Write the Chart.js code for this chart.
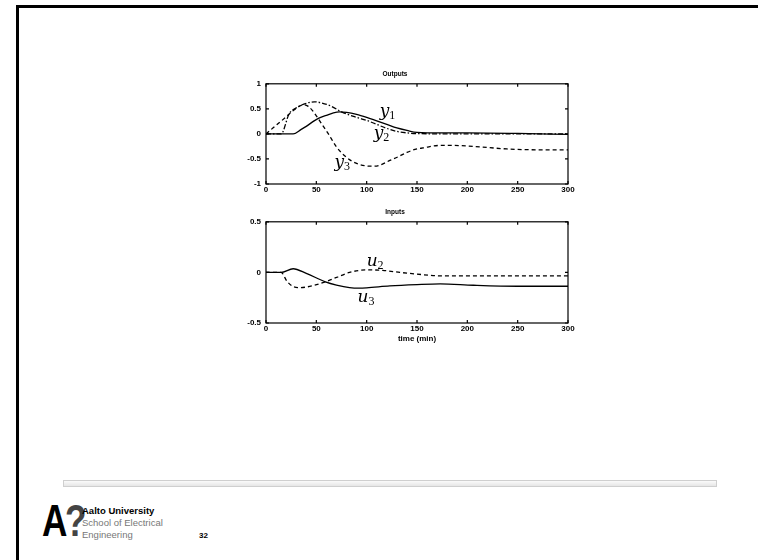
<!DOCTYPE html>
<html>
<head>
<meta charset="utf-8">
<script src="https://cdn.jsdelivr.net/npm/chart.js@4.4.1/dist/chart.umd.min.js"></script>
<style>
  html, body { margin: 0; padding: 0; background: #fff; }
  body { width: 758px; height: 560px; position: relative; overflow: hidden; font-family: "Liberation Sans", Arial, sans-serif; }
  .edge-top { position: absolute; left: 16px; top: 5px; right: 0; height: 3px; background: #000; }
  .edge-left { position: absolute; left: 16px; top: 5px; bottom: 0; width: 3px; background: #000; }
  canvas { position: absolute; }
  #outCanvas { left: 222px; top: 66px; }
  #inCanvas { left: 222px; top: 204px; }
  .rule { position: absolute; left: 63px; top: 480px; width: 652px; height: 5px; border: 1px solid #cfcfcf; background: linear-gradient(#fafafa, #e6e6e6); }
  .mark { position: absolute; left: 42px; top: 499px; font: bold 44px "Liberation Sans", Arial, sans-serif; letter-spacing: -3px; color: #000; line-height: 1; transform: scaleX(0.8); transform-origin: left top; }
  .mark span { color: #444; }
  .uni { position: absolute; left: 82px; top: 505px; font: bold 9.5px "Liberation Sans", Arial, sans-serif; color: #000; line-height: 11px; }
  .school { position: absolute; left: 82px; top: 517px; font: 9.5px "Liberation Sans", Arial, sans-serif; color: #777; line-height: 12px; }
  .page { position: absolute; left: 199px; top: 531px; font: bold 8px "Liberation Sans", Arial, sans-serif; color: #000; }
</style>
</head>
<body>
<div class="edge-top"></div>
<div class="edge-left"></div>

<canvas id="outCanvas" width="356" height="132"></canvas>
<canvas id="inCanvas" width="356" height="140"></canvas>

<div class="rule"></div>
<div class="mark">A<span>?</span></div>
<div class="uni">Aalto University</div>
<div class="school">School of Electrical<br>Engineering</div>
<div class="page">32</div>

<script>
// ---- time axis ----
const timeTicks = [0, 50, 100, 150, 200, 250, 300];
const outTicks = [-1, -0.5, 0, 0.5, 1];
const inTicks = [-0.5, 0, 0.5];

// ---- outputs ----
const y1Time = [0, 27, 35, 40, 47, 52, 60, 67, 73, 80, 90, 100, 110, 120, 130, 140, 150, 175, 200, 250, 300];
const y1Vals = [0, 0, 0.09, 0.15, 0.25, 0.31, 0.37, 0.42, 0.44, 0.43, 0.39, 0.33, 0.26, 0.19, 0.12, 0.07, 0.03, 0.02, 0.02, 0.01, -0.01];

const y2Time = [0, 15, 23, 30, 40, 48, 55, 65, 75, 90, 100, 110, 120, 130, 140, 150, 200, 250, 300];
const y2Vals = [0, 0, 0.40, 0.52, 0.61, 0.64, 0.62, 0.55, 0.44, 0.33, 0.27, 0.19, 0.11, 0.05, 0.02, 0.005, 0, 0, 0];

const y3Time = [0, 10, 20, 25, 30, 35, 38, 42, 46, 50, 55, 62, 70, 80, 90, 100, 105, 112, 123, 132, 140, 148, 156, 173, 186, 206, 239, 260, 300];
const y3Vals = [0, 0.17, 0.34, 0.43, 0.51, 0.57, 0.58, 0.55, 0.47, 0.36, 0.21, 0, -0.26, -0.47, -0.59, -0.64, -0.645, -0.63, -0.53, -0.45, -0.37, -0.31, -0.28, -0.23, -0.23, -0.25, -0.30, -0.315, -0.32];

// ---- inputs ----
const u2Time = [0, 15, 21, 27, 34, 47, 59, 70, 83, 100, 116, 133, 150, 175, 200, 250, 300];
const u2Vals = [0, 0, -0.09, -0.14, -0.15, -0.13, -0.093, -0.05, 0, 0.025, 0.02, 0, -0.017, -0.035, -0.035, -0.035, -0.035];

const u3Time = [0, 15, 27, 40, 59, 70, 83, 93, 100, 123, 150, 173, 206, 250, 300];
const u3Vals = [0, 0, 0.036, -0.01, -0.093, -0.125, -0.15, -0.155, -0.152, -0.133, -0.12, -0.113, -0.127, -0.137, -0.137];

// curve name tags: [name, subscript, time, value]
const outTags = [["y", "1", 113, 0.36], ["y", "2", 107, -0.09], ["y", "3", 68, -0.66]];
const inTags = [["u", "2", 100, 0.06], ["u", "3", 91, -0.29]];

const toPoints = (ts, vs) => ts.map((t, i) => ({ x: t, y: vs[i] }));

const tickFont = { family: "'Liberation Sans', Arial, sans-serif", size: 8, weight: 'bold' };

// Box around the plot area with inward tick marks on all four sides
const boxPlugin = {
  id: 'box',
  afterDatasetsDraw(chart, args, opts) {
    const { ctx, chartArea: a, scales } = chart;
    ctx.save();
    ctx.strokeStyle = '#000';
    ctx.lineWidth = 1.2;
    ctx.setLineDash([]);
    ctx.strokeRect(a.left, a.top, a.right - a.left, a.bottom - a.top);
    const len = 3;
    ctx.beginPath();
    opts.xTicks.forEach(v => {
      const px = scales.x.getPixelForValue(v);
      ctx.moveTo(px, a.bottom); ctx.lineTo(px, a.bottom - len);
      ctx.moveTo(px, a.top); ctx.lineTo(px, a.top + len);
    });
    opts.yTicks.forEach(v => {
      const py = scales.y.getPixelForValue(v);
      ctx.moveTo(a.left, py); ctx.lineTo(a.left + len, py);
      ctx.moveTo(a.right, py); ctx.lineTo(a.right - len, py);
    });
    ctx.stroke();
    ctx.restore();
  }
};

// Italic curve names with a subscript index, anchored in data coordinates
const tagPlugin = {
  id: 'tags',
  afterDatasetsDraw(chart, args, opts) {
    const { ctx, scales } = chart;
    ctx.save();
    ctx.fillStyle = '#000';
    ctx.textBaseline = 'alphabetic';
    ctx.textAlign = 'left';
    opts.items.forEach(([name, sub, t, v]) => {
      const px = scales.x.getPixelForValue(t);
      const py = scales.y.getPixelForValue(v);
      ctx.font = "italic 20px 'DejaVu Serif', serif";
      ctx.save();
      ctx.translate(px, py);
      ctx.scale(0.85, 0.8);
      ctx.fillText(name, 0, 0);
      const w = ctx.measureText(name).width * 0.85;
      ctx.restore();
      ctx.font = "12px 'Liberation Serif', serif";
      ctx.fillText(sub, px + w, py + 3);
    });
    ctx.restore();
  }
};

function lineSet(ts, vs, dash) {
  return {
    data: toPoints(ts, vs),
    borderColor: '#000',
    borderWidth: 1.3,
    borderDash: dash,
    pointRadius: 0,
    fill: false,
    cubicInterpolationMode: 'monotone'
  };
}

function makeChart(id, title, datasets, yMin, yMax, yTicks, tags, withTimeTitle, xHeight) {
  return new Chart(document.getElementById(id), {
    type: 'line',
    data: { datasets },
    options: {
      responsive: false,
      animation: false,
      layout: { padding: { left: 0, right: 10, top: 0, bottom: 0 } },
      plugins: {
        legend: { display: false },
        tooltip: { enabled: false },
        title: {
          display: true, text: title, color: '#000',
          font: { family: "'Liberation Sans', Arial, sans-serif", size: 6.5, weight: 'bold' },
          padding: { top: 4, bottom: 6 }
        },
        box: { xTicks: timeTicks, yTicks },
        tags: { items: tags }
      },
      scales: {
        x: {
          type: 'linear', min: 0, max: 300,
          afterBuildTicks: s => { s.ticks = timeTicks.map(v => ({ value: v })); },
          grid: { display: false, drawTicks: false },
          border: { display: false },
          ticks: { color: '#000', font: tickFont, padding: 1, maxRotation: 0, callback: v => String(v) },
          title: {
            display: withTimeTitle, text: 'time (min)', color: '#000',
            font: tickFont, padding: { top: 0, bottom: 0 }
          },
          afterFit: s => { s.height = xHeight; }
        },
        y: {
          min: yMin, max: yMax,
          afterBuildTicks: s => { s.ticks = yTicks.map(v => ({ value: v })); },
          grid: { display: false, drawTicks: false },
          border: { display: false },
          ticks: { color: '#000', font: tickFont, padding: 5, callback: v => String(v) },
          afterFit: s => { s.width = 44; }
        }
      }
    },
    plugins: [boxPlugin, tagPlugin]
  });
}

makeChart('outCanvas', 'Outputs', [
  lineSet(y1Time, y1Vals, []),
  lineSet(y2Time, y2Vals, [5, 2, 1.5, 2]),
  lineSet(y3Time, y3Vals, [4, 3])
], -1, 1, outTicks, outTags, false, 14);

makeChart('inCanvas', 'Inputs', [
  lineSet(u2Time, u2Vals, [4, 3]),
  lineSet(u3Time, u3Vals, [])
], -0.5, 0.5, inTicks, inTags, true, 21);
</script>
</body>
</html>
